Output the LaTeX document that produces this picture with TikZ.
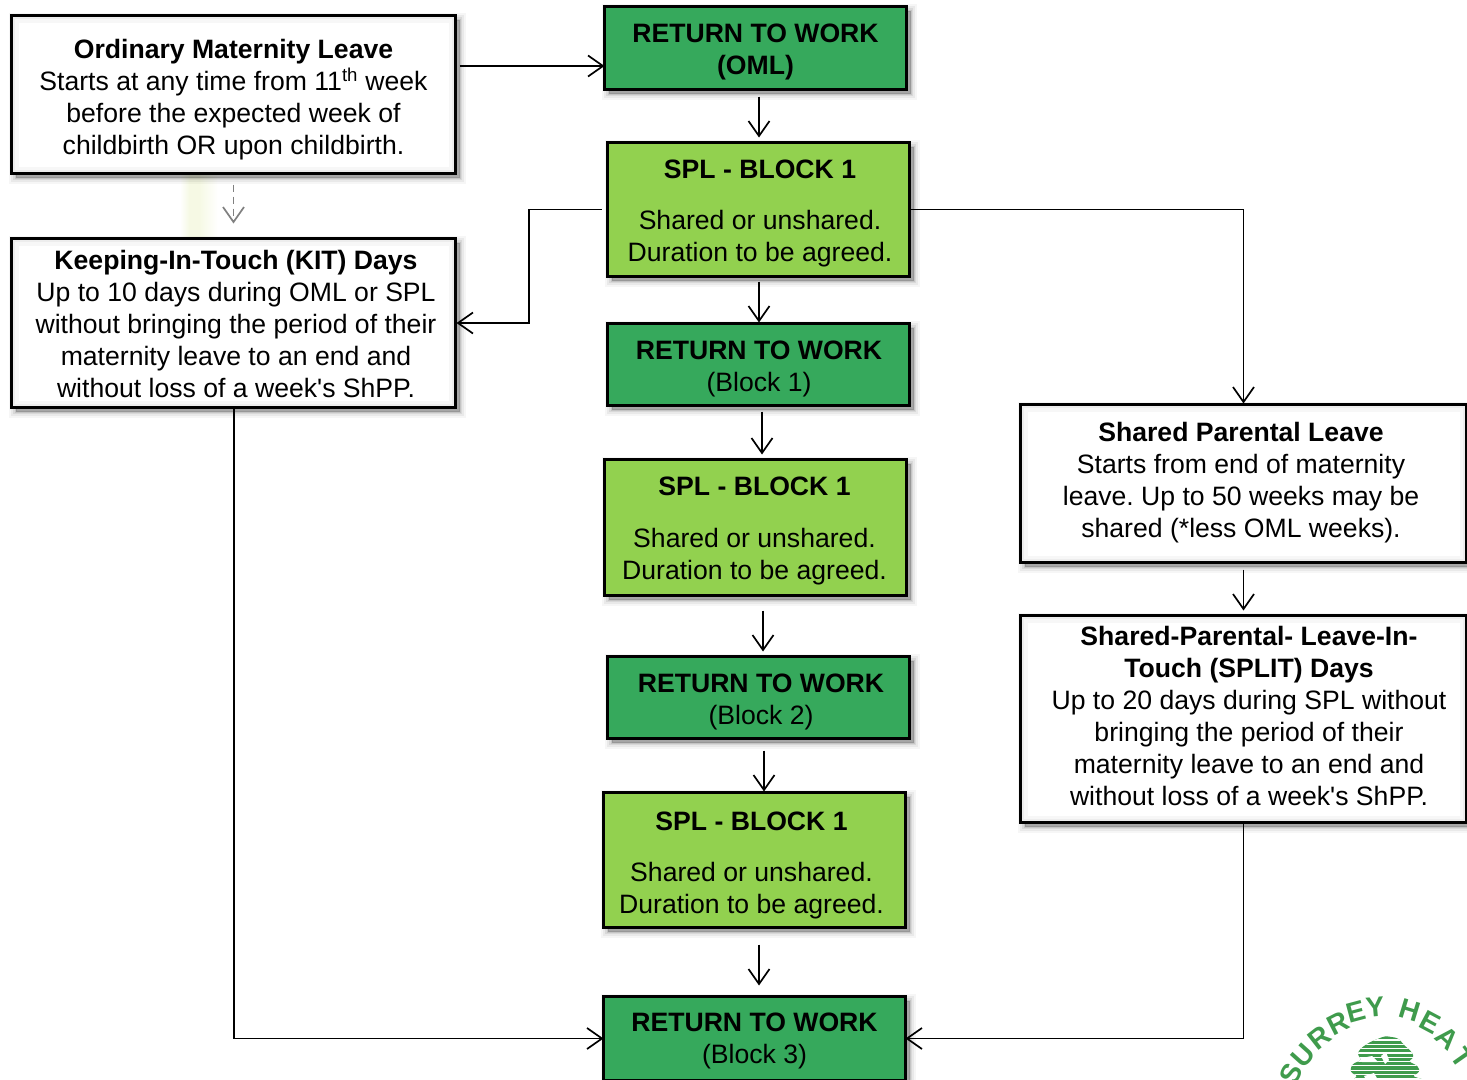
\documentclass[tikz,border=0pt]{standalone}
\usepackage{fontspec}
\setmainfont{Liberation Sans}
\usetikzlibrary{arrows.meta,calc}
\definecolor{dkgreen}{HTML}{36A95C}
\definecolor{ltgreen}{HTML}{92D14F}
\definecolor{logogreen}{HTML}{3F9B4C}
\definecolor{smudge}{HTML}{F6F9E4}
\tikzset{
  softshadow/.style={
    preaction={draw=black,fill=black,opacity=.035,line width=13pt,transform canvas={shift={(4pt,-4pt)}}},
    preaction={draw=black,fill=black,opacity=.05,line width=9pt,transform canvas={shift={(4pt,-4pt)}}},
    preaction={draw=black,fill=black,opacity=.07,line width=5pt,transform canvas={shift={(4pt,-4pt)}}},
    preaction={draw=black,fill=black,opacity=.09,line width=2pt,transform canvas={shift={(4pt,-4pt)}}}},
  boxbase/.style={draw=black,line width=2.8pt,rectangle,inner sep=0pt,outer sep=0pt,softshadow},
  whitebox/.style={boxbase,fill=white,
    path picture={
      \draw[black,opacity=.03,line width=14pt] (path picture bounding box.south west) rectangle (path picture bounding box.north east);
      \draw[black,opacity=.04,line width=7pt] (path picture bounding box.south west) rectangle (path picture bounding box.north east);
    }},
  darkbox/.style={boxbase,fill=dkgreen},
  lightbox/.style={boxbase,fill=ltgreen},
  txt/.style={align=center,font=\fontsize{26.6}{32}\selectfont,inner sep=0pt,text=black},
  conn/.style={draw=black,line width=1.7pt,-{Straight Barb[length=15pt,width=21pt,line width=1.7pt]}},
  dashconn/.style={draw=black!50,line width=1.7pt,dash pattern=on 7pt off 5pt,-{Straight Barb[length=15pt,width=21pt,line width=1.7pt]}},
  logoletter/.style={text=logogreen,font=\fontsize{28}{28}\selectfont\bfseries,inner sep=0pt}
}
\newcommand{\bx}[6]{\node[#2,minimum width={(#5-#3)*1pt},minimum height={(#6-#4)*1pt}] (#1) at ({(#3+#5)/2-0.5},{(#4+#6)/2-0.5}) {};}
\begin{document}
\frenchspacing
\begin{tikzpicture}[x=1pt,y=-1pt]
\useasboundingbox (0,0) rectangle (1467,1079);
\clip (0,0) rectangle (1467,1079);
\fill[white] (0,0) rectangle (1467,1079);
% faint smudge between the first two boxes
\fill[left color=white,right color=smudge,middle color=smudge] (180,170) rectangle (199,240);
\fill[left color=smudge,right color=white] (199,170) rectangle (218,240);
% boxes
\bx{oml}{whitebox}{12}{16}{456}{174}
\bx{kit}{whitebox}{12}{239}{456}{408}
\bx{retoml}{darkbox}{605}{7}{907}{90}
\bx{spla}{lightbox}{608}{143}{910}{277}
\bx{reta}{darkbox}{608}{324}{910}{406}
\bx{splb}{lightbox}{605}{460}{907}{596}
\bx{retb}{darkbox}{608}{657}{910}{739}
\bx{splc}{lightbox}{604}{793}{906}{928}
\bx{retc}{darkbox}{604}{997}{906}{1081}
\bx{shared}{whitebox}{1021}{405}{1467}{563}
\bx{split}{whitebox}{1021}{616}{1467}{823}
% texts
\node[txt] (omlt) at (233.5,100) {\textbf{Ordinary Maternity Leave}\\Starts at any time from 11\textsuperscript{th} week\\before the expected week of\\childbirth OR upon childbirth.};
\node[txt] (kitt) at (236,324) {\textbf{Keeping-In-Touch (KIT) Days}\\Up to 10 days during OML or SPL\\without bringing the period of their\\maternity leave to an end and\\without loss of a week\textquotesingle s ShPP.};
\node[txt] (retomlt) at (755.5,51.5) {\textbf{RETURN TO WORK}\\\textbf{(OML)}};
\node[txt] (splat) at (760,213) {\textbf{SPL - BLOCK 1}\\[19pt]Shared or unshared.\\Duration to be agreed.};
\node[txt] (retat) at (759,369) {\textbf{RETURN TO WORK}\\(Block 1)};
\node[txt] (splbt) at (754.5,530.5) {\textbf{SPL - BLOCK 1}\\[20pt]Shared or unshared.\\Duration to be agreed.};
\node[txt] (retbt) at (761,702) {\textbf{RETURN TO WORK}\\(Block 2)};
\node[txt] (splct) at (751.5,865) {\textbf{SPL - BLOCK 1}\\[19pt]Shared or unshared.\\Duration to be agreed.};
\node[txt] (retct) at (754.5,1041) {\textbf{RETURN TO WORK}\\(Block 3)};
\node[txt] (sharedt) at (1241,483) {\textbf{Shared Parental Leave}\\Starts from end of maternity\\leave. Up to 50 weeks may be\\shared (*less OML weeks).};
\node[txt] (splitt) at (1249,716) {\textbf{Shared-Parental- Leave-In-}\\\textbf{Touch (SPLIT) Days}\\Up to 20 days during SPL without\\bringing the period of their\\maternity leave to an end and\\without loss of a week\textquotesingle s ShPP.};
% guides for connectors
\coordinate (ga) at (759,0);
\coordinate (gb) at (762,0);
\coordinate (gc) at (763,0);
\coordinate (gd) at (764,0);
\coordinate (ge) at (233.5,0);
\coordinate (gf) at (1243.5,0);
\coordinate (gg) at (0,66);
\coordinate (gh) at (529,0);
\coordinate (gi) at (234,0);
% connectors
\draw[conn,shorten <=4pt] (oml.east |- gg) -- (retoml.west |- gg);
\draw[conn,shorten <=7pt,shorten >=5pt] (retoml.south -| ga) -- (spla.north -| ga);
\draw[conn,shorten <=5pt,shorten >=1pt] (spla.south -| ga) -- (reta.north -| ga);
\draw[conn,shorten <=6pt,shorten >=5pt] (reta.south -| gb) -- (splb.north -| gb);
\draw[conn,shorten <=15pt,shorten >=5pt] (splb.south -| gc) -- (retb.north -| gc);
\draw[conn,shorten <=12pt,shorten >=1pt] (retb.south -| gd) -- (splc.north -| gd);
\draw[conn,shorten <=17pt,shorten >=11pt] (splc.south -| ga) -- (retc.north -| ga);
\draw[conn,shorten <=6pt,shorten >=1pt] (spla.west) -- (spla.west -| gh) |- (kit.east);
\draw[conn,shorten >=1pt] (spla.east) -- (spla.east -| gf) -- (shared.north -| gf);
\draw[conn,shorten <=7pt,shorten >=5pt] (shared.south -| gf) -- (split.north -| gf);
\draw[conn] (kit.south -| gi) |- (retc.west);
\draw[conn] (split.south -| gf) |- (retc.east);
\draw[dashconn,shorten <=11pt,shorten >=15pt] (oml.south -| ge) -- (kit.north -| ge);
% logo
\foreach \ch/\lx/\ly/\rot in {S/1291/1074/63,U/1303/1056/48,R/1320/1038/38,R/1338/1023/27,E/1356/1012/15,Y/1375/1007/5,H/1410/1010/-17,E/1430/1022/-28,A/1447/1038/-42,T/1462/1058/-55}
  {\node[logoletter,rotate=\rot] at (\lx,\ly) {\ch};}
\begin{scope}
\clip[rounded corners=3pt] (1385,1036) -- (1398,1038) -- (1405,1046) -- (1412,1052) -- (1414,1058) -- (1408,1061) -- (1418,1066) -- (1420,1072) -- (1412,1076) -- (1425,1080) -- (1352,1080) -- (1358,1076) -- (1350,1072) -- (1352,1064) -- (1362,1060) -- (1357,1054) -- (1361,1048) -- (1370,1042) -- cycle;
\fill[logogreen] (1340,1030) rectangle (1430,1079);
\foreach \ly in {1040,1044.3,...,1079}
  {\draw[white,line width=1.2pt] (1340,\ly) -- (1430,\ly);}
\fill[white] (1386,1052) -- (1389,1060) -- (1385,1064) -- (1381,1056) -- cycle;
\fill[white] (1356,1059) -- (1372,1056) -- (1378,1062) -- (1362,1062) -- cycle;
\fill[white] (1364,1076) -- (1374,1073) -- (1378,1080) -- (1366,1080) -- cycle;
\end{scope}
\end{tikzpicture}
\end{document}
